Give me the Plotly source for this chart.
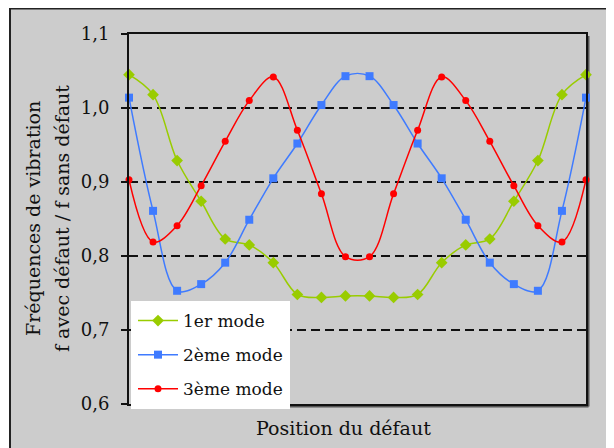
import plotly.graph_objects as go

# Position index of the defect along the beam (20 positions)
positions = list(range(20))

# Frequency ratio f with defect / f without defect
mode1 = [1.045, 1.018, 0.929, 0.874, 0.823, 0.815, 0.791, 0.748, 0.744, 0.746,
         0.746, 0.744, 0.748, 0.791, 0.815, 0.823, 0.874, 0.929, 1.018, 1.045]
mode2 = [1.014, 0.861, 0.753, 0.762, 0.791, 0.849, 0.905, 0.952, 1.004, 1.043,
         1.043, 1.004, 0.952, 0.905, 0.849, 0.791, 0.762, 0.753, 0.861, 1.014]
mode3 = [0.903, 0.819, 0.841, 0.895, 0.955, 1.010, 1.042, 0.970, 0.884, 0.799,
         0.799, 0.884, 0.970, 1.042, 1.010, 0.955, 0.895, 0.841, 0.819, 0.903]

series_names = ['1er mode', '2ème mode', '3ème mode']
y_ticks = [0.6, 0.7, 0.8, 0.9, 1.0, 1.1]

# the page body has an 8px margin, so work in window pixels and shift
OFF = 8
W, H = 614, 448
# plot area in window pixels: 129..586 x 34..404
L, R, T, B = 129 - OFF, W - (586 - OFF), 34 - OFF, H - (404 - OFF)
pw, ph = W - L - R, H - T - B

def px(x):
    return (x - OFF - L) / pw

def py(y):
    return (H - B - (y - OFF)) / ph

fig = go.Figure()

styles = [
    dict(color='#99cc00', symbol='diamond', size=9),
    dict(color='#3f7bff', symbol='square', size=8),
    dict(color='#ff0000', symbol='circle', size=7),
]

for name, vals, st in zip(series_names, [mode1, mode2, mode3], styles):
    fig.add_trace(go.Scatter(
        x=positions, y=vals, name=name, legendgroup=name,
        mode='lines+markers',
        line=dict(color=st['color'], width=1.5, shape='spline', smoothing=1.0),
        marker=dict(color=st['color'], symbol=st['symbol'], size=st['size']),
        cliponaxis=False,
    ))

# grey frame behind everything
fig.add_shape(type='rect', xref='paper', yref='paper', layer='below',
              x0=px(10), x1=px(613), y0=py(470), y1=py(OFF + 0.5),
              fillcolor='#cccccc', line=dict(color='#222222', width=2))
# little shadow on the right / bottom of the plot frame
fig.add_shape(type='line', xref='paper', yref='paper', layer='below',
              x0=px(588.5), x1=px(588.5), y0=py(406.5), y1=py(36),
              line=dict(color='#555555', width=2))
fig.add_shape(type='line', xref='paper', yref='paper', layer='below',
              x0=px(131), x1=px(588.5), y0=py(406.5), y1=py(406.5),
              line=dict(color='#555555', width=2))

# y axis title, two lines
fig.add_annotation(text='Fréquences de vibration', xref='paper', yref='paper',
                   x=px(33), y=py(219), textangle=-90, showarrow=False,
                   xanchor='center', yanchor='middle',
                   font=dict(family='DejaVu Serif', size=19, color='#111111'))
fig.add_annotation(text='f avec défaut / f sans défaut', xref='paper', yref='paper',
                   x=px(62), y=py(219), textangle=-90, showarrow=False,
                   xanchor='center', yanchor='middle',
                   font=dict(family='DejaVu Serif', size=19, color='#111111'))
# x axis title
fig.add_annotation(text='Position du défaut', xref='paper', yref='paper',
                   x=px(343), y=py(428), showarrow=False,
                   xanchor='center', yanchor='middle',
                   font=dict(family='DejaVu Serif', size=19, color='#111111'))

fig.update_layout(
    width=W, height=H,
    margin=dict(l=L, r=R, t=T, b=B),
    paper_bgcolor='white',
    plot_bgcolor='white',
    separators=', ',
    font=dict(family='DejaVu Serif', size=18, color='#111111'),
    legend=dict(x=px(131), y=py(301), xanchor='left', yanchor='top',
                bgcolor='white', bordercolor='white', borderwidth=2, itemwidth=40,
                tracegroupgap=9, font=dict(size=17, family='DejaVu Serif')),
    showlegend=True,
)

fig.update_xaxes(range=[0, 19], showticklabels=False, ticks='',
                 showgrid=False, zeroline=False,
                 showline=True, linecolor='#111111', linewidth=2, mirror=True)
fig.update_yaxes(range=[0.6, 1.1], tickvals=y_ticks, tickformat='.1f',
                 ticks='outside', ticklen=6, tickcolor='#111111', tickwidth=1.5,
                 ticklabelstandoff=8,
                 showgrid=True, gridcolor='#111111', gridwidth=2, griddash='9px,5px',
                 zeroline=False,
                 showline=True, linecolor='#111111', linewidth=2, mirror=True)

fig.write_html("out.html")
